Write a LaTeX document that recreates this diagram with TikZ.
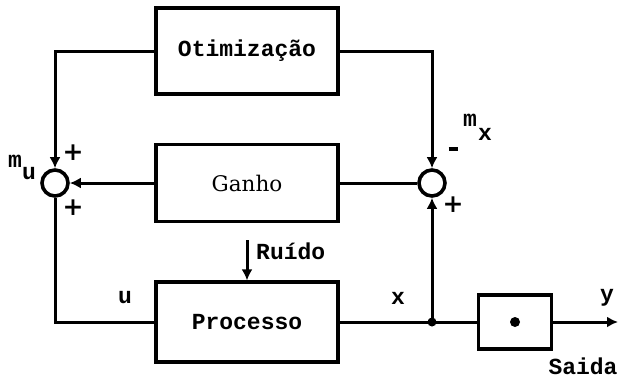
\documentclass[tikz,border=0pt]{standalone}
\usepackage{fontspec}
\setmainfont{DejaVu Serif}
\setmonofont{Liberation Mono}
\usetikzlibrary{arrows.meta,positioning}

\begin{document}
\begin{tikzpicture}[x=1pt, y=-1pt,
  bloco/.style={draw, line width=3.2pt, minimum width=182pt, inner sep=0pt},
  soma/.style={circle, draw, line width=3.6pt, minimum size=26pt, inner sep=0pt},
  linha/.style={line width=3pt},
  seta/.style={line width=3pt, -{Latex[length=11pt, width=11pt]}},
  texto/.style={font=\fontsize{23}{26}\selectfont\ttfamily\bfseries, inner sep=0pt},
  sinal/.style={font=\fontsize{25}{27}\selectfont\bfseries, inner sep=0pt}]
  \useasboundingbox (0,0) rectangle (618,384);

  % blocos
  \node[bloco, texto, minimum height=86pt] (otim) at (247,51) {Otimização};
  \node[bloco, minimum height=77pt, font=\fontsize{21.5}{24}\selectfont] (ganho) at (247,183) {Ganho};
  \node[bloco, texto, minimum height=80pt] (proc) at (247,322) {Processo};
  \node[bloco, minimum width=73pt, minimum height=54pt] (mult) at (515,322) {};
  \fill (mult.center) circle (5);

  % somadores
  \node[soma] (somaU) at (55,183) {};
  \node[soma] (somaX) at (432,183) {};

  % pontos auxiliares
  \coordinate (jx) at (somaX |- proc.east);
  \coordinate (saida) at (618,322);
  \coordinate (ruido) at (247,240);

  % ligacoes
  \draw[seta] (otim.west) -| (somaU.north);
  \draw[seta] (otim.east) -| (somaX.north);
  \draw[linha] (somaX.west) -- (ganho.east);
  \draw[seta] (ganho.west) -- (somaU.east);
  \draw[linha] (somaU.south) |- (proc.west);
  \draw[linha] (proc.east) -- (jx) -- (mult.west);
  \draw[seta] (jx) -- (somaX.south);
  \draw[seta] (mult.east) -- (saida);
  \draw[seta] (ruido) -- (proc.north);
  \fill (jx) circle (4.5);

  % rotulos
  \node[texto, anchor=west] (lruido) at (256,251) {Ruído};
  \node[texto] (lu) at (125,298) {u};
  \node[texto] (lx) at (398,298) {x};
  \node[texto] (ly) at (607,298) {y};
  \node[texto] (lsaida) at (583,366) {Saida};
  \node[texto] (lmu) at (15,161) {m};
  \node[texto] (lmu2) at (29,174) {u};
  \node[texto] (lmx) at (470,120) {m};
  \node[texto] (lmx2) at (485,134) {x};

  % sinais
  \node[sinal] (s1) at (73,153) {+};
  \node[sinal] (s2) at (73,208) {+};
  \node[sinal] (s3) at (453,205) {+};
  \node[sinal] (s4) at (453,149) {\rule{9pt}{3.5pt}};
\end{tikzpicture}
\end{document}
